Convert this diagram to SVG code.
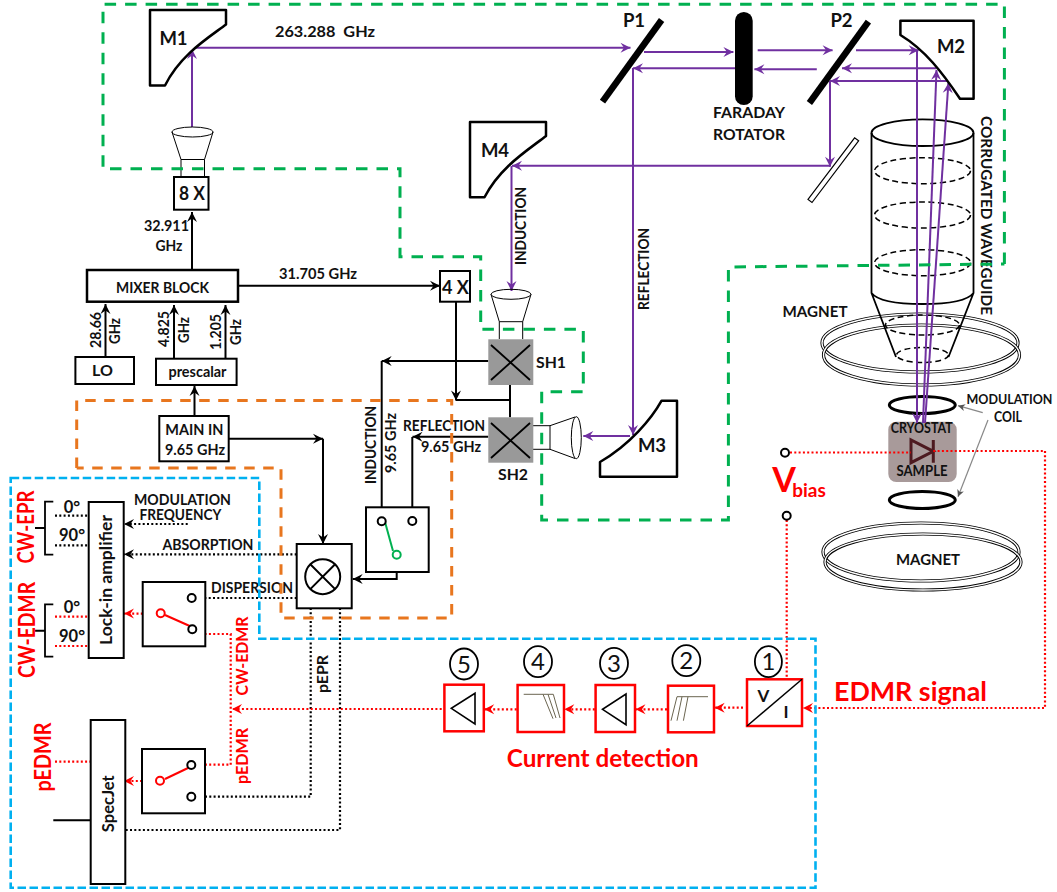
<svg xmlns="http://www.w3.org/2000/svg" width="1057" height="892" viewBox="0 0 1057 892">
<style>
text{font-family:Lato,"Liberation Sans",sans-serif;font-weight:700;font-size:16px;fill:#111;text-anchor:middle}
.m{font-size:18.5px}
.n{font-size:24px;font-weight:400}
.d{font-size:16.5px}
.r{fill:#f00}
.r1{font-size:22px}
.r2{font-size:17.5px}
.box{fill:#fff;stroke:#000;stroke-width:2}
.rb{fill:#fff;stroke:#f00;stroke-width:2.5}
.mir{fill:#fff;stroke:#000;stroke-width:2.5;stroke-linejoin:round}
.thin{fill:none;stroke:#000;stroke-width:1}
.num{fill:none;stroke:#000;stroke-width:1.8}
.wg{fill:none;stroke:#000;stroke-width:1.8}
.wd{fill:none;stroke:#000;stroke-width:1.5;stroke-dasharray:6 3.5}
.c{fill:#fff;stroke:#000;stroke-width:2}
.ring1{fill:none;stroke:#000;stroke-width:3.2}
.ring2{fill:none;stroke:#fff;stroke-width:1.4}
.k{fill:none;stroke:#000;stroke-width:2;marker-end:url(#ak)}
.k0{fill:none;stroke:#000;stroke-width:2}
.p{fill:none;stroke:#7030a0;stroke-width:2;marker-end:url(#ap)}
.kd{fill:none;stroke:#000;stroke-width:2.2;stroke-dasharray:2 2.3}
.kda{fill:none;stroke:#000;stroke-width:2.2;stroke-dasharray:2 2.3;marker-end:url(#ak)}
.rd{fill:none;stroke:#f00;stroke-width:2.2;stroke-dasharray:2 2.3}
.rda{fill:none;stroke:#f00;stroke-width:2.2;stroke-dasharray:2 2.3;marker-end:url(#ar)}
.g{fill:none;stroke:#888;stroke-width:1.2;marker-end:url(#ag)}
.gd{fill:none;stroke:#00b050;stroke-width:3;stroke-dasharray:11.5 9}
.od{fill:none;stroke:#e8761e;stroke-width:3;stroke-dasharray:10.5 8.5}
.bd{fill:none;stroke:#00b0f0;stroke-width:2.6;stroke-dasharray:8.5 3.5}
</style>
<defs>
<marker id="ak" markerUnits="userSpaceOnUse" markerWidth="13" markerHeight="13" refX="12" refY="6.5" orient="auto"><path d="M12,6.5 L2,1.5 L5.5,6.5 L2,11.5z" fill="#000"/></marker>
<marker id="ap" markerUnits="userSpaceOnUse" markerWidth="13" markerHeight="13" refX="12" refY="6.5" orient="auto"><path d="M12,6.5 L2,1.5 L5.5,6.5 L2,11.5z" fill="#7030a0"/></marker>
<marker id="ar" markerUnits="userSpaceOnUse" markerWidth="13" markerHeight="13" refX="12" refY="6.5" orient="auto"><path d="M12,6.5 L2,1.5 L5.5,6.5 L2,11.5z" fill="#f00"/></marker>
<marker id="ag" markerUnits="userSpaceOnUse" markerWidth="9" markerHeight="9" refX="8" refY="4.5" orient="auto"><path d="M8,4.5 L1,1 L3,4.5 L1,8z" fill="#555"/></marker>
</defs>
<rect width="1057" height="892" fill="#fff"/>

<g id="magnet-top">
<ellipse class="ring1" cx="920" cy="343" rx="98" ry="29"/><ellipse class="ring2" cx="920" cy="343" rx="98" ry="29"/>
<ellipse class="ring1" cx="921.5" cy="355" rx="98" ry="30"/><ellipse class="ring2" cx="921.5" cy="355" rx="98" ry="30"/>
<text x="815" y="317" textLength="65" lengthAdjust="spacingAndGlyphs">MAGNET</text>
</g>
<g id="magnet-bottom">
<ellipse class="ring1" cx="921" cy="552" rx="98" ry="29"/><ellipse class="ring2" cx="921" cy="552" rx="98" ry="29"/>
<ellipse class="ring1" cx="923" cy="562" rx="98" ry="28"/><ellipse class="ring2" cx="923" cy="562" rx="98" ry="28"/>
<text x="928" y="565" textLength="64" lengthAdjust="spacingAndGlyphs">MAGNET</text>
</g>
<g id="waveguide">
<ellipse class="wg" cx="922.5" cy="132.7" rx="51" ry="13.3"/>
<path class="wg" d="M871.5,133V293Q880,304 922.5,304T973.5,293V133M871.5,293L896,357M973.5,293L948.5,357"/>
<ellipse class="wd" cx="922.5" cy="170.7" rx="48" ry="13"/>
<ellipse class="wd" cx="922.5" cy="215" rx="48" ry="13"/>
<ellipse class="wd" cx="922.5" cy="262.7" rx="48" ry="13"/>
<ellipse class="wd" cx="922.5" cy="325" rx="37" ry="10"/>
<ellipse class="wd" cx="922.5" cy="355" rx="26" ry="7.5"/>
<text transform="translate(981,215.5) rotate(90)" textLength="199" lengthAdjust="spacingAndGlyphs">CORRUGATED WAVEGUIDE</text>
</g>
<g id="cryostat">
<rect x="888.3" y="421.7" width="68.4" height="60.3" rx="8" fill="#a89a9a"/>
<path d="M911,440V462.7L933.3,451.3ZM933.3,440V462.7" fill="none" stroke="#4d1a20" stroke-width="3"/>
<text x="921.7" y="433" textLength="62" lengthAdjust="spacingAndGlyphs">CRYOSTAT</text>
<text x="922" y="476" textLength="51" lengthAdjust="spacingAndGlyphs">SAMPLE</text>
</g>
<g id="modulation-coil">
<ellipse cx="922.3" cy="405" rx="33" ry="8.5" fill="none" stroke="#000" stroke-width="3"/>
<ellipse cx="922.3" cy="500" rx="33" ry="8.5" fill="none" stroke="#000" stroke-width="3"/>
<text x="1009.5" y="404" textLength="86" lengthAdjust="spacingAndGlyphs" style="font-size:14px">MODULATION</text>
<text x="1008" y="422" textLength="28" lengthAdjust="spacingAndGlyphs">COIL</text>
</g>

<g id="connectors">
<path class="p" d="M192,127V49"/>
<path class="p" d="M192,47.7H630.5"/>
<path class="p" d="M644,52H733.4"/>
<path class="p" d="M735,68.3H633"/>
<path class="p" d="M633,68V435"/>
<path class="p" d="M757.7,50.3H832.6"/>
<path class="p" d="M816.8,69.3H754.4"/>
<path class="p" d="M856,50.3H918.7"/>
<path class="p" d="M936.5,68.3H842"/>
<path class="p" d="M948.4,81H830"/>
<path class="p" d="M830,81V166.7"/>
<path class="p" d="M830,165.7H512"/>
<path class="p" d="M511.5,166V291"/>
<path class="p" d="M630,436H583.3"/>
<path class="p" d="M917,50L917,423"/>
<path class="p" d="M923,423L936.5,70"/>
<path class="p" d="M925,423L948.4,83"/>
<path class="k" d="M192,270V212"/>
<path class="k" d="M238,285.7H440"/>
<path class="k" d="M105.5,357V304"/>
<path class="k" d="M174,358V305"/>
<path class="k" d="M225.5,358V305"/>
<path class="k" d="M194.5,416V386"/>
<path class="k" d="M228.7,438.7H323"/>
<path class="k" d="M323,438.7V544"/>
<path class="k" d="M456,301.7V400.5"/>
<path class="k0" d="M510,385V417.3M510,400H456"/>
<path class="k" d="M488.3,361H381.7"/>
<path class="k0" d="M381.7,361V521"/>
<path class="k" d="M488.3,436.7H412.5"/>
<path class="k0" d="M412.3,437V521"/>
<path class="k" d="M396.7,559V579H352.7"/>
<path class="k0" d="M35,528H45M35,630.7H45M53.3,820.3H90.7"/>
<path class="kda" d="M187.7,524H124"/>
<path class="kda" d="M296.7,554.3H124"/>
<path class="kd" d="M296.7,598H196"/>
<path class="kd" d="M310.7,608V796.7H196"/>
<path class="kd" d="M340,608V830H125.3"/>
<path class="kd" d="M55,515.7H88.7M55,545.3H88.7"/>
<path class="rd" d="M55,616.7H88.7M55,646H88.7M55,761.7H90.7"/>
<path class="rda" d="M155.7,613.6H124"/>
<path class="rda" d="M155,781H124"/>
<path class="rd" d="M196,634H230.7V764.7H196"/>
<path class="rda" d="M441.7,709H232"/>
<path class="rda" d="M516.7,709.3H484.2"/>
<path class="rda" d="M594.8,709.3H564.3"/>
<path class="rda" d="M667,709.3H635.5"/>
<path class="rda" d="M743,707.7H714.7"/>
<path class="rda" d="M1045,451V708H803"/>
<path class="rd" d="M790,452.5H911M933.3,451H1045"/>
<path class="rd" d="M786.7,520V679"/>
<path class="g" d="M982.7,412.7L958,405.7"/>
<path class="g" d="M988,420L958,496.7"/>
</g>

<g id="M1"><path class="mir" d="M150,10H226V24.5C208,38 180,55 165,85.5H150Z"/><text class="m" x="173.5" y="45">M1</text></g>
<g id="M2"><path class="mir" d="M900.4,20.7H973.6V98.7H960C942,72 925,50 900.4,35Z"/><text class="m" x="951" y="53">M2</text></g>
<g id="M3"><path class="mir" d="M600,462V476.7H677V400.7H661.6C652,418 630,445 600,462Z"/><text class="m" x="652" y="452">M3</text></g>
<g id="M4"><path class="mir" d="M470,122H546V136C528,150 500,167 484.5,197.3H470Z"/><text class="m" x="495" y="157">M4</text></g>
<g id="P1"><path d="M661.6,20L602.5,101.7" stroke="#000" stroke-width="6.5"/><text class="m" x="634" y="27">P1</text></g>
<g id="P2"><path d="M868.4,21.7L809.4,103" stroke="#000" stroke-width="6.5"/><text class="m" x="841.5" y="27">P2</text></g>
<g id="faraday-rotator"><rect x="735" y="12" width="17.7" height="93" rx="8.8" fill="#000"/>
<text x="749" y="118" textLength="72" lengthAdjust="spacingAndGlyphs">FARADAY</text><text x="749" y="140" textLength="72" lengthAdjust="spacingAndGlyphs">ROTATOR</text></g>
<g id="splitter"><path d="M858.6,140.8L854.6,137.8L808,199.5L812,202.5Z" fill="#fff" stroke="#000" stroke-width="1.2"/></g>

<g id="horn-1"><path class="thin" d="M172,132L181,159.5H204.5L213,132M181,159.5V176.5M204.5,159.5V176.5"/><ellipse class="thin" cx="192.5" cy="132" rx="20.5" ry="5"/></g>
<g id="horn-2"><path class="thin" d="M491,294.3L499.3,321.7H522.7L531,294.3M499.3,321.7V339M522.7,321.7V339"/><ellipse class="thin" cx="511" cy="294.3" rx="20" ry="5"/></g>
<g id="horn-3"><path class="thin" d="M532.7,425.7H550V449.3H532.7M550,425.7L575,417M550,449.3L575,458.5"/><ellipse class="thin" cx="576.3" cy="437.7" rx="5" ry="21"/></g>

<g id="x8"><rect class="box" x="174" y="177" width="34.5" height="32.7"/><text class="m" x="192" y="200" textLength="26" lengthAdjust="spacingAndGlyphs">8 X</text></g>
<g id="x4"><rect class="box" x="440" y="271" width="30" height="30.7"/><text class="m" x="455.5" y="293.5" textLength="27" lengthAdjust="spacingAndGlyphs">4 X</text></g>
<g id="mixer-block"><rect class="box" x="87" y="270" width="151" height="31.7" style="stroke-width:2.5"/><text x="162.5" y="293" textLength="93" lengthAdjust="spacingAndGlyphs">MIXER BLOCK</text></g>
<g id="LO"><rect class="box" x="75.4" y="357" width="58.6" height="27"/><text x="102.5" y="376">LO</text></g>
<g id="prescalar"><rect class="box" x="156" y="358.7" width="80.6" height="26.3"/><text x="197.5" y="377" textLength="58" lengthAdjust="spacingAndGlyphs">prescalar</text></g>
<g id="main-in"><rect class="box" x="159.3" y="416" width="69.4" height="45.3"/><text x="194.3" y="435" textLength="58" lengthAdjust="spacingAndGlyphs">MAIN IN</text><text x="195" y="455" textLength="60" lengthAdjust="spacingAndGlyphs">9.65 GHz</text></g>
<g id="SH1"><rect x="488.3" y="339.3" width="45" height="45.7" fill="#999"/><path d="M491,345L530,380M530,345L491,380" stroke="#000" stroke-width="1.8"/><text x="551" y="368" textLength="30" lengthAdjust="spacingAndGlyphs">SH1</text></g>
<g id="SH2"><rect x="488.3" y="417.3" width="45" height="45.4" fill="#999"/><path d="M491,423L530,458M530,423L491,458" stroke="#000" stroke-width="1.8"/><text x="513" y="480" textLength="30" lengthAdjust="spacingAndGlyphs">SH2</text></g>
<g id="switch-green"><rect class="box" x="366" y="507.3" width="62.7" height="64.7"/><path d="M385,522L393,551" stroke="#00b050" stroke-width="2" fill="none"/><circle class="c" cx="381.7" cy="521.3" r="4"/><circle class="c" cx="412.3" cy="521" r="4"/><circle cx="396.7" cy="554.7" r="4" fill="#fff" stroke="#00b050" stroke-width="2"/></g>
<g id="mixer"><rect class="box" x="296.7" y="544" width="55" height="64.3"/><circle cx="322.7" cy="576.7" r="17.5" fill="none" stroke="#000" stroke-width="2"/><path d="M310.3,564.3L335.1,589.1M335.1,564.3L310.3,589.1" stroke="#000" stroke-width="2"/></g>
<g id="lock-in"><rect class="box" x="88.7" y="502" width="35" height="156"/><text transform="translate(112,580) rotate(-90)" style="font-size:17px" textLength="130" lengthAdjust="spacingAndGlyphs">Lock-in amplifier</text></g>
<g id="specjet"><rect class="box" x="90.7" y="720" width="34.6" height="164"/><text transform="translate(114,803.7) rotate(-90)" style="font-size:17px" textLength="57" lengthAdjust="spacingAndGlyphs">SpecJet</text></g>
<g id="switch-cw"><rect class="box" x="142.7" y="582" width="62.6" height="64.3"/><path d="M165,615L192,627" stroke="#f00" stroke-width="2"/><circle class="c" cx="191.7" cy="598" r="4"/><circle class="c" cx="192.3" cy="629.3" r="4"/><circle cx="160.7" cy="613.3" r="4" fill="#fff" stroke="#f00" stroke-width="2"/></g>
<g id="switch-p"><rect class="box" x="142" y="749" width="63" height="64.3"/><path d="M165,779L188,768" stroke="#f00" stroke-width="2"/><circle class="c" cx="191.3" cy="765" r="4"/><circle class="c" cx="191.3" cy="796.7" r="4"/><circle cx="160" cy="780.7" r="4" fill="#fff" stroke="#f00" stroke-width="2"/></g>
<g id="braces"><path d="M53.3,501.7H45V554.7H53.3M53.3,604.3H45V656.7H53.3" fill="none" stroke="#000" stroke-width="1.8"/></g>
<g id="vbias-terminals"><circle class="c" cx="785" cy="452.7" r="4"/><circle class="c" cx="786.7" cy="515.7" r="4"/></g>

<g id="stage-1"><ellipse class="num" cx="768.4" cy="661.7" rx="13.5" ry="15.5"/><text class="n" x="768.4" y="670">1</text><rect class="rb" x="747" y="679.3" width="55" height="46.7"/><path d="M802,679.3L747,726" stroke="#000" stroke-width="1.5"/><text x="763.5" y="702" style="font-size:17px">V</text><text x="786" y="718" style="font-size:17px">I</text></g>
<g id="stage-2"><ellipse class="num" cx="686.3" cy="660.7" rx="14" ry="15.5"/><text class="n" x="686.3" y="669">2</text><rect class="rb" x="668" y="685.7" width="46" height="46.6"/><path d="M708,696.7H677L671,720.7M682,696.7L677,720.7M688,696.7L683.4,720.7" fill="none" stroke="#6b6550" stroke-width="1"/></g>
<g id="stage-3"><ellipse class="num" cx="614" cy="663.3" rx="14" ry="15.5"/><text class="n" x="614" y="672">3</text><rect class="rb" x="595.6" y="685" width="39.4" height="47"/><path d="M626,694V724.7L602.5,709.3Z" fill="none" stroke="#000" stroke-width="1.6"/></g>
<g id="stage-4"><ellipse class="num" cx="538" cy="661.7" rx="14" ry="15.5"/><text class="n" x="538" y="670">4</text><rect class="rb" x="517.6" y="685" width="46.4" height="47"/><path d="M523.7,694.3H553.3L560,718M543,694.3L553,718.7M548,694.3L556,718" fill="none" stroke="#6b6550" stroke-width="1"/></g>
<g id="stage-5"><ellipse class="num" cx="464" cy="664" rx="14" ry="15.5"/><text class="n" x="464" y="673">5</text><rect class="rb" x="444.4" y="684.7" width="39.4" height="46.6"/><path d="M475,693.3V724L451.3,708.3Z" fill="none" stroke="#000" stroke-width="1.6"/></g>

<g id="labels">
<text x="325" y="37" textLength="100" lengthAdjust="spacingAndGlyphs" style="white-space:pre">263.288  GHz</text>
<text x="166.5" y="230.5" textLength="45" lengthAdjust="spacingAndGlyphs">32.911</text>
<text x="169" y="250.5" textLength="27" lengthAdjust="spacingAndGlyphs">GHz</text>
<text x="318" y="279" textLength="78" lengthAdjust="spacingAndGlyphs">31.705 GHz</text>
<text transform="translate(101,330) rotate(-90)" textLength="36" lengthAdjust="spacingAndGlyphs">28.66</text>
<text transform="translate(120,331) rotate(-90)" textLength="26" lengthAdjust="spacingAndGlyphs">GHz</text>
<text transform="translate(169,329) rotate(-90)" textLength="36" lengthAdjust="spacingAndGlyphs">4.825</text>
<text transform="translate(189,330) rotate(-90)" textLength="26" lengthAdjust="spacingAndGlyphs">GHz</text>
<text transform="translate(221,332) rotate(-90)" textLength="36" lengthAdjust="spacingAndGlyphs">1.205</text>
<text transform="translate(241,332) rotate(-90)" textLength="26" lengthAdjust="spacingAndGlyphs">GHz</text>
<text transform="translate(526,226) rotate(-90)" textLength="78" lengthAdjust="spacingAndGlyphs">INDUCTION</text>
<text transform="translate(649,269) rotate(-90)" textLength="82" lengthAdjust="spacingAndGlyphs">REFLECTION</text>
<text x="444" y="431" textLength="82" lengthAdjust="spacingAndGlyphs">REFLECTION</text>
<text x="451" y="452" textLength="60" lengthAdjust="spacingAndGlyphs">9.65 GHz</text>
<text transform="translate(376,445) rotate(-90)" textLength="78" lengthAdjust="spacingAndGlyphs">INDUCTION</text>
<text transform="translate(396,443) rotate(-90)" textLength="60" lengthAdjust="spacingAndGlyphs">9.65 GHz</text>
<text x="182.5" y="504.5" textLength="97" lengthAdjust="spacingAndGlyphs" style="font-size:14.5px">MODULATION</text>
<text x="180.5" y="520" textLength="82" lengthAdjust="spacingAndGlyphs" style="font-size:14.5px">FREQUENCY</text>
<text x="208" y="550" textLength="91" lengthAdjust="spacingAndGlyphs">ABSORPTION</text>
<text x="252" y="593.3" textLength="82" lengthAdjust="spacingAndGlyphs">DISPERSION</text>
<text class="d" x="72" y="513">0°</text>
<text class="d" x="72" y="541">90°</text>
<text class="d" x="72" y="613">0°</text>
<text class="d" x="72" y="642">90°</text>
<text transform="translate(328,674) rotate(-90)" textLength="38" lengthAdjust="spacingAndGlyphs">pEPR</text>
<text class="r r2" transform="translate(247.5,656) rotate(-90)" textLength="79" lengthAdjust="spacingAndGlyphs">CW-EDMR</text>
<text class="r r2" transform="translate(247.5,756) rotate(-90)" textLength="56" lengthAdjust="spacingAndGlyphs">pEDMR</text>
<text class="r r1" transform="translate(34,527) rotate(-90)" textLength="73" lengthAdjust="spacingAndGlyphs">CW-EPR</text>
<text class="r r1" transform="translate(34.5,630) rotate(-90)" textLength="96" lengthAdjust="spacingAndGlyphs">CW-EDMR</text>
<text class="r r1" transform="translate(51,757) rotate(-90)" textLength="69" lengthAdjust="spacingAndGlyphs">pEDMR</text>
<text class="r" x="784" y="492" style="font-size:34px">V</text>
<text class="r" x="809" y="497" style="font-size:19px">bias</text>
<text class="r" x="910.5" y="701" style="font-size:26px" textLength="153" lengthAdjust="spacingAndGlyphs">EDMR signal</text>
<text class="r" x="602.8" y="767" style="font-size:24px" textLength="192" lengthAdjust="spacingAndGlyphs">Current detection</text>
</g>

<g id="regions">
<path class="gd" d="M1004.4,264V4.3H103V168.7H400V256.7H480.7V329.3H583.3V391.7H541.7V520H728.4V267L1004.4,264"/>
<path class="od" d="M76.7,468V400.5H451.7V618H281V468H76.7"/>
<path class="bd" d="M10.7,478H259.3V638.7H815.5V887.7H10.7Z"/>
</g>
</svg>
